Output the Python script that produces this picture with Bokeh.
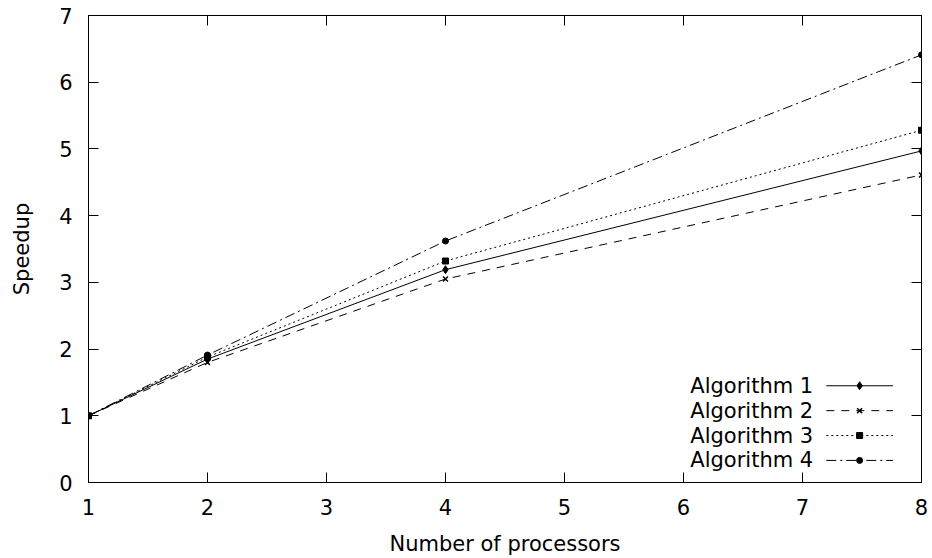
from bokeh.plotting import figure
from bokeh.models import Range1d, LinearAxis, FixedTicker, CustomLabelingPolicy
from bokeh.core.properties import value
from bokeh.embed import file_html
from bokeh.resources import INLINE

# ---- data ----
processors = [1, 2, 4, 8]
algo1 = [1.0, 1.85, 3.19, 4.97]
algo2 = [1.0, 1.80, 3.05, 4.61]
algo3 = [1.0, 1.88, 3.32, 5.28]
algo4 = [1.0, 1.91, 3.62, 6.41]
series_names = ["Algorithm 1", "Algorithm 2", "Algorithm 3", "Algorithm 4"]
x_ticks = [1, 2, 3, 4, 5, 6, 7, 8]
y_ticks = [0, 1, 2, 3, 4, 5, 6, 7]

FONT = "DejaVu Sans"
FS = "21px"

p = figure(width=932, height=558, output_backend="svg", toolbar_location=None,
           x_range=Range1d(1, 8), y_range=Range1d(0, 7),
           min_border_left=88, min_border_right=11, min_border_top=15, min_border_bottom=75,
           x_axis_label="Number of processors", y_axis_label="Speedup")
p.xgrid.visible = False
p.ygrid.visible = False
p.outline_line_color = "black"
p.outline_line_width = 1
p.background_fill_color = "white"
p.border_fill_color = "white"

def style_axis(ax, ticks):
    ax.ticker = FixedTicker(ticks=ticks)
    ax.major_tick_in = 10
    ax.major_tick_out = 0
    ax.minor_tick_line_color = None
    ax.major_tick_line_color = "black"
    ax.axis_line_color = "black"
    ax.major_label_text_font = FONT
    ax.major_label_text_font_size = FS
    ax.major_label_text_color = "black"
    ax.axis_label_text_font = FONT
    ax.axis_label_text_font_size = FS
    ax.axis_label_text_font_style = "normal"
    ax.axis_label_text_color = "black"

style_axis(p.xaxis[0], x_ticks)
style_axis(p.yaxis[0], y_ticks)
p.xaxis[0].major_label_standoff = 16
p.xaxis[0].axis_label_standoff = 14
p.yaxis[0].major_label_standoff = 16
p.yaxis[0].axis_label_standoff = 22

# mirrored inward ticks on top and right (gnuplot style), without labels
no_labels = "for (const i of indices) { indices.unset(i) }\nreturn indices"
top = LinearAxis()
style_axis(top, x_ticks)
top.major_label_standoff = 0
top.major_label_text_font_size = "1px"
top.axis_line_color = None
top.major_label_policy = CustomLabelingPolicy(code=no_labels)
p.add_layout(top, "above")
right = LinearAxis()
style_axis(right, y_ticks)
right.major_label_standoff = 0
right.major_label_text_font_size = "1px"
right.axis_line_color = None
right.major_label_policy = CustomLabelingPolicy(code=no_labels)
p.add_layout(right, "right")

series = [algo1, algo2, algo3, algo4]
dashes = ["solid", "8 7", "2 3", "10 4 2 4"]
markers = ["diamond", "x", "square", "circle"]
msizes = [8, 7, 6, 6]

for ys, d, m, ms in zip(series, dashes, markers, msizes):
    p.line(processors, ys, line_color="black", line_width=1, line_dash=d)
    p.scatter(processors, ys, marker=m, size=ms, line_color="black", fill_color="black",
              line_width=1.5 if m == "x" else 1)

# ---- legend (gnuplot style: label on left, sample on right) ----
leg_text_x = 7.09
leg_line_x0 = 7.20
leg_line_x1 = 7.76
leg_mark_x = 7.48
leg_y0 = 1.45
leg_dy = 0.373
for i, (name, d, m, ms) in enumerate(zip(series_names, dashes, markers, msizes)):
    yy = leg_y0 - i * leg_dy
    p.line([leg_line_x0, leg_line_x1], [yy, yy], line_color="black", line_width=1, line_dash=d)
    p.scatter([leg_mark_x], [yy], marker=m, size=ms, line_color="black", fill_color="black",
              line_width=1.5 if m == "x" else 1)
    p.text([leg_text_x], [yy], text=[name], text_align="right", text_baseline="middle",
           text_font=value(FONT), text_font_size=FS, text_color="black")

open("out.html", "w").write(file_html(p, INLINE))
